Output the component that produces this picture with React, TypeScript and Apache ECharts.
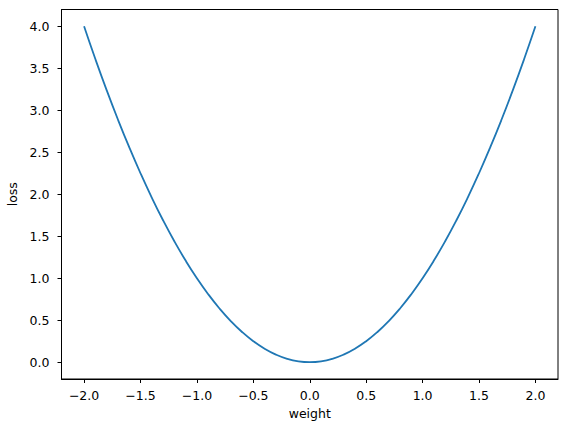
import React, { useEffect, useRef } from "react";
import * as echarts from "echarts";

const weights = [
  -2.0, -1.9, -1.8, -1.7, -1.6, -1.5, -1.4, -1.3, -1.2, -1.1, -1.0, -0.9, -0.8, -0.7, -0.6, -0.5, -0.4, -0.3, -0.2, -0.1,
  0.0, 0.1, 0.2, 0.3, 0.4, 0.5, 0.6, 0.7, 0.8, 0.9, 1.0, 1.1, 1.2, 1.3, 1.4, 1.5, 1.6, 1.7, 1.8, 1.9, 2.0,
];
const losses = [
  4.0, 3.61, 3.24, 2.89, 2.56, 2.25, 1.96, 1.69, 1.44, 1.21, 1.0, 0.81, 0.64, 0.49, 0.36, 0.25, 0.16, 0.09, 0.04, 0.01,
  0.0, 0.01, 0.04, 0.09, 0.16, 0.25, 0.36, 0.49, 0.64, 0.81, 1.0, 1.21, 1.44, 1.69, 1.96, 2.25, 2.56, 2.89, 3.24, 3.61, 4.0,
];
const xTicks = [-2.0, -1.5, -1.0, -0.5, 0.0, 0.5, 1.0, 1.5, 2.0];
const yTicks = [0.0, 0.5, 1.0, 1.5, 2.0, 2.5, 3.0, 3.5, 4.0];

const fmt = (v: number) => (v < 0 ? "\u2212" + Math.abs(v).toFixed(1) : v.toFixed(1));
const FONT = "DejaVu Sans";

export default function App() {
  const ref = useRef<HTMLDivElement>(null);
  useEffect(() => {
    document.body.style.margin = "0";
    const chart = echarts.init(ref.current!, null, { renderer: "svg" });
    chart.setOption({
      animation: false,
      backgroundColor: "#ffffff",
      grid: {
        left: 61.5,
        right: 9,
        top: 9.5,
        bottom: 53,
        containLabel: false,
        outerBoundsMode: "none",
        show: true,
        borderColor: "#000",
        borderWidth: 1,
        backgroundColor: "transparent",
      },
      xAxis: {
        type: "value",
        min: -2.2,
        max: 2.2,
        name: "weight",
        nameLocation: "middle",
        nameGap: 28,
        nameTextStyle: { fontFamily: FONT, fontSize: 12.5, color: "#000" },
        axisLine: { show: true, onZero: false, lineStyle: { color: "#000", width: 1 } },
        axisTick: { show: true, length: 4, lineStyle: { color: "#000" }, customValues: xTicks },
        axisLabel: {
          fontFamily: FONT,
          fontSize: 12.5,
          color: "#000",
          margin: 10,
          customValues: xTicks,
          formatter: (v: number) => fmt(v),
        },
        splitLine: { show: false },
      },
      yAxis: {
        type: "value",
        min: -0.2,
        max: 4.2,
        name: "loss",
        nameLocation: "middle",
        nameGap: 42,
        nameRotate: 90,
        nameTextStyle: { fontFamily: FONT, fontSize: 12.5, color: "#000" },
        axisLine: { show: true, onZero: false, lineStyle: { color: "#000", width: 1 } },
        axisTick: { show: true, length: 4, lineStyle: { color: "#000" }, customValues: yTicks },
        axisLabel: {
          fontFamily: FONT,
          fontSize: 12.5,
          color: "#000",
          margin: 12,
          customValues: yTicks,
          formatter: (v: number) => fmt(v),
        },
        splitLine: { show: false },
      },
      series: [
        {
          type: "line",
          data: weights.map((w, i) => [w, losses[i]]),
          smooth: true,
          showSymbol: false,
          lineStyle: { color: "#1f77b4", width: 1.8 },
        },
      ],
    });
    return () => chart.dispose();
  }, []);
  return <div ref={ref} style={{ width: 567, height: 432 }} />;
}
